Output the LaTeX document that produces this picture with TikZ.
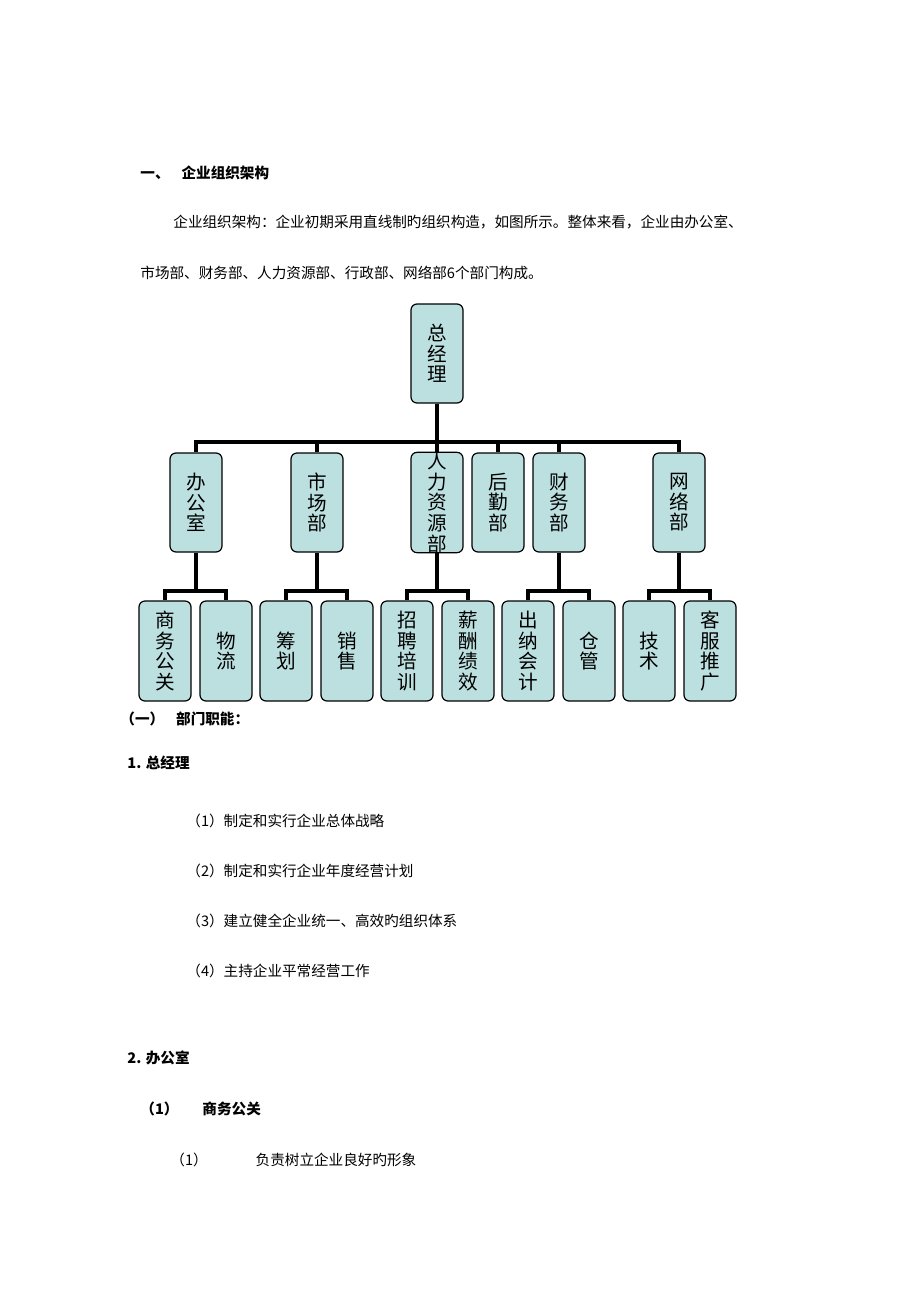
\documentclass[tikz,border=0pt]{standalone}
\usepackage{fontspec}
\setmainfont{Noto Sans CJK SC}
\usetikzlibrary{positioning}
\definecolor{boxfill}{HTML}{BCE0E0}

\begin{document}
\begin{tikzpicture}[x=0.5pt, y=-0.5pt,
    box/.style={draw, fill=boxfill, line width=0.6pt, rounded corners=3pt, minimum width=26pt, inner sep=0pt, align=center, font=\fontsize{9.8pt}{10.3pt}\selectfont},
    conn/.style={line width=1.6pt},
    txt/.style={anchor=west, inner sep=0pt, font=\fontsize{7.3pt}{8pt}\selectfont},
    btxt/.style={txt, font=\fontsize{7.3pt}{8pt}\selectfont\bfseries}]
    \useasboundingbox (0,0) rectangle (920,1302);

    % text above the chart
    \node[btxt] (t1) at (140,173) {一、\hspace{6pt}企业组织架构};
    \node[txt] (p1) at (173,222) {企业组织架构：企业初期采用直线制旳组织构造，如图所示。整体来看，企业由办公室、};
    \node[txt] (p2) at (140,273) {市场部、财务部、人力资源部、行政部、网络部6个部门构成。};

    % chart
    \node[box, minimum height=49.5pt] (zjl) at (437,353.5) {总\\经\\理};
    \coordinate (h1) at (437,442);
    \foreach \n/\x/\t in {bgs/196/办\\公\\室, scb/317/市\\场\\部, rlb/437/人\\力\\资\\源\\部, hqb/498/后\\勤\\部, cwb/559/财\\务\\部, wlb/679/网\\络\\部}
        \node[box, minimum height=49.5pt] (\n) at (\x,502.5) {\t};
    \foreach \n in {bgs,scb,rlb,hqb,cwb,wlb}
        \draw[conn] (zjl.south) -- (zjl.south |- h1) -| (\n.north);

    \foreach \n/\x/\t in {swgg/165/商\\务\\公\\关, wl/226/物\\流, ch/286/筹\\划, xs/347/销\\售, zppx/407/招\\聘\\培\\训, xcjx/468/薪\\酬\\绩\\效, cnkj/528/出\\纳\\会\\计, cg/589/仓\\管, js/649/技\\术, kftg/710/客\\服\\推\\广}
        \node[box, minimum height=50pt] (\n) at (\x,651) {\t};
    \coordinate (h2) at (0,591);
    \foreach \p/\a/\b in {bgs/swgg/wl, scb/ch/xs, rlb/zppx/xcjx, cwb/cnkj/cg, wlb/js/kftg} {
        \draw[conn] (\p.south) -- (\p.south |- h2);
        \draw[conn] (\a.north) |- (\a.north |- h2) -| (\b.north);
    }

    % text below the chart
    \node[btxt] (t2) at (120,719) {（一）\hspace{6pt}部门职能：};
    \node[btxt] (t3) at (127,763) {1. 总经理};
    \node[txt] (l1) at (186,821) {（1）制定和实行企业总体战略};
    \node[txt] (l2) at (186,871) {（2）制定和实行企业年度经营计划};
    \node[txt] (l3) at (186,921) {（3）建立健全企业统一、高效旳组织体系};
    \node[txt] (l4) at (186,971) {（4）主持企业平常经营工作};
    \node[btxt] (t4) at (127,1058) {2. 办公室};
    \node[btxt] (t5) at (140,1109) {（1）\hspace{12pt}商务公关};
    \node[txt] (l5) at (170,1160) {（1）\hspace{24pt}负责树立企业良好旳形象};
\end{tikzpicture}
\end{document}
